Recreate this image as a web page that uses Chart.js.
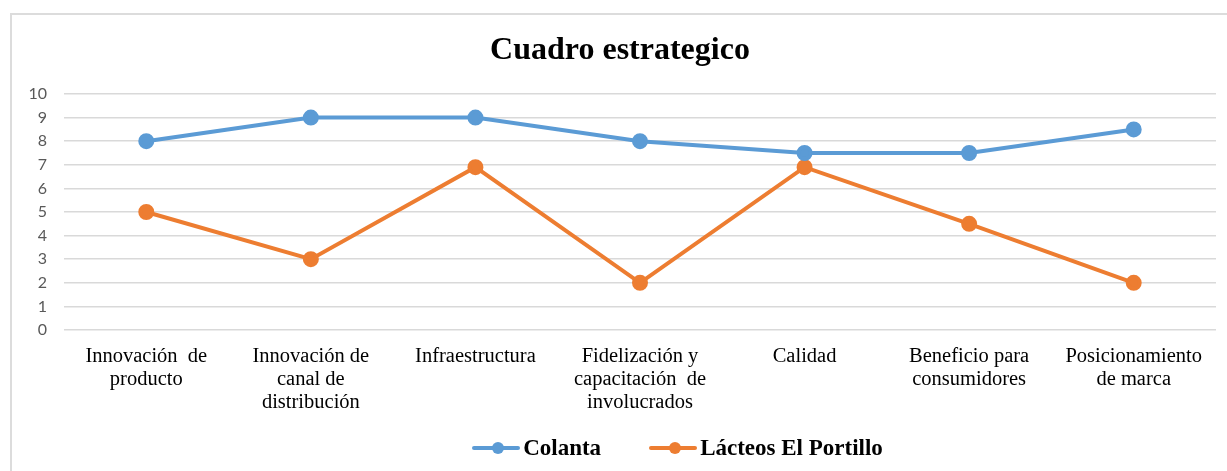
<!DOCTYPE html>
<html>
<head>
<meta charset="utf-8">
<script src="https://cdn.jsdelivr.net/npm/chart.js@4.4.0/dist/chart.umd.min.js"></script>
<style>
  html, body { margin: 0; padding: 0; background: #fff; }
  body { width: 1227px; height: 471px; position: relative; overflow: hidden; }
  #frame { position: absolute; left: 10px; top: 13px; width: 1300px; height: 500px; border: 2px solid #dcdcdc; }
  #myChart { position: absolute; left: 0; top: 0; }
  #legrow { position: absolute; left: 0; top: 435px; width: 1227px; display: flex; justify-content: center; padding-left: 128px; box-sizing: border-box; }
  .legendItem { display: flex; align-items: center; margin: 0 24px; font-family: "Liberation Serif", serif; font-weight: bold; font-size: 23px; color: #000; }
  .colorBox { position: relative; width: 48px; height: 4px; margin-right: 3px; border-radius: 2px; }
  .colorBox i { position: absolute; left: 20px; top: -4px; width: 12px; height: 12px; border-radius: 50%; }
</style>
</head>
<body>
<div id="frame"></div>
<canvas id="myChart" width="1227" height="471"></canvas>
<div id="legrow"></div>
<script>
var categories = [
    ['Innovación  de', 'producto'],
    ['Innovación de', 'canal de', 'distribución'],
    'Infraestructura',
    ['Fidelización y', 'capacitación  de', 'involucrados'],
    'Calidad',
    ['Beneficio para', 'consumidores'],
    ['Posicionamiento', 'de marca']
];
var seriesNames = ['Colanta', 'Lácteos El Portillo'];
var colanta = [8, 9, 9, 8, 7.5, 7.5, 8.5];
var portillo = [5, 3, 6.9, 2, 6.9, 4.5, 2];
var yTicks = [0, 1, 2, 3, 4, 5, 6, 7, 8, 9, 10];
var colors = ['#5B9BD5', '#ED7D31'];

document.addEventListener('DOMContentLoaded', function() {
    var ctx = document.getElementById('myChart').getContext('2d');

    new Chart(ctx, {
        type: 'line',
        data: {
            labels: categories,
            datasets: [{
                label: seriesNames[0],
                data: colanta,
                borderColor: colors[0],
                backgroundColor: colors[0],
                borderWidth: 4,
                pointRadius: 6,
                pointHoverRadius: 6,
                tension: 0
            }, {
                label: seriesNames[1],
                data: portillo,
                borderColor: colors[1],
                backgroundColor: colors[1],
                borderWidth: 4,
                pointRadius: 6,
                pointHoverRadius: 6,
                tension: 0
            }]
        },
        options: {
            responsive: false,
            animation: false,
            layout: {
                padding: { left: 24, right: 11, top: 0, bottom: 45 }
            },
            scales: {
                x: {
                    offset: true,
                    grid: { display: false, drawTicks: false },
                    border: { display: false },
                    ticks: {
                        color: '#000',
                        padding: 15,
                        maxRotation: 0,
                        autoSkip: false,
                        font: { family: '"Liberation Serif", serif', size: 20.5, lineHeight: 1.13 }
                    },
                    afterFit: function(scale) { scale.height = 96; }
                },
                y: {
                    min: 0,
                    max: 10,
                    afterBuildTicks: function(scale) {
                        scale.ticks = yTicks.map(function(v) { return { value: v }; });
                    },
                    grid: { color: '#d9d9d9', lineWidth: 1.5, drawTicks: false },
                    border: { display: false },
                    ticks: {
                        color: '#595959',
                        padding: 17,
                        font: { family: 'Lato', size: 16 }
                    },
                    afterFit: function(scale) { scale.width = 40; }
                }
            },
            plugins: {
                legend: { display: false },
                tooltip: { enabled: false },
                title: {
                    display: true,
                    text: 'Cuadro estrategico',
                    color: '#000',
                    font: { family: '"Liberation Serif", serif', size: 32, weight: 'bold', lineHeight: 1.2 },
                    padding: { top: 32, bottom: 23.6 }
                }
            }
        }
    });

    var legendContainer = document.getElementById('legrow');
    seriesNames.forEach(function(name, index) {
        var legendItem = document.createElement('div');
        legendItem.className = 'legendItem';

        var colorBox = document.createElement('div');
        colorBox.className = 'colorBox';
        colorBox.style.backgroundColor = colors[index];
        var dot = document.createElement('i');
        dot.style.backgroundColor = colors[index];
        colorBox.appendChild(dot);
        legendItem.appendChild(colorBox);

        var text = document.createElement('span');
        text.textContent = name;
        legendItem.appendChild(text);

        legendContainer.appendChild(legendItem);
    });
});
</script>
</body>
</html>
